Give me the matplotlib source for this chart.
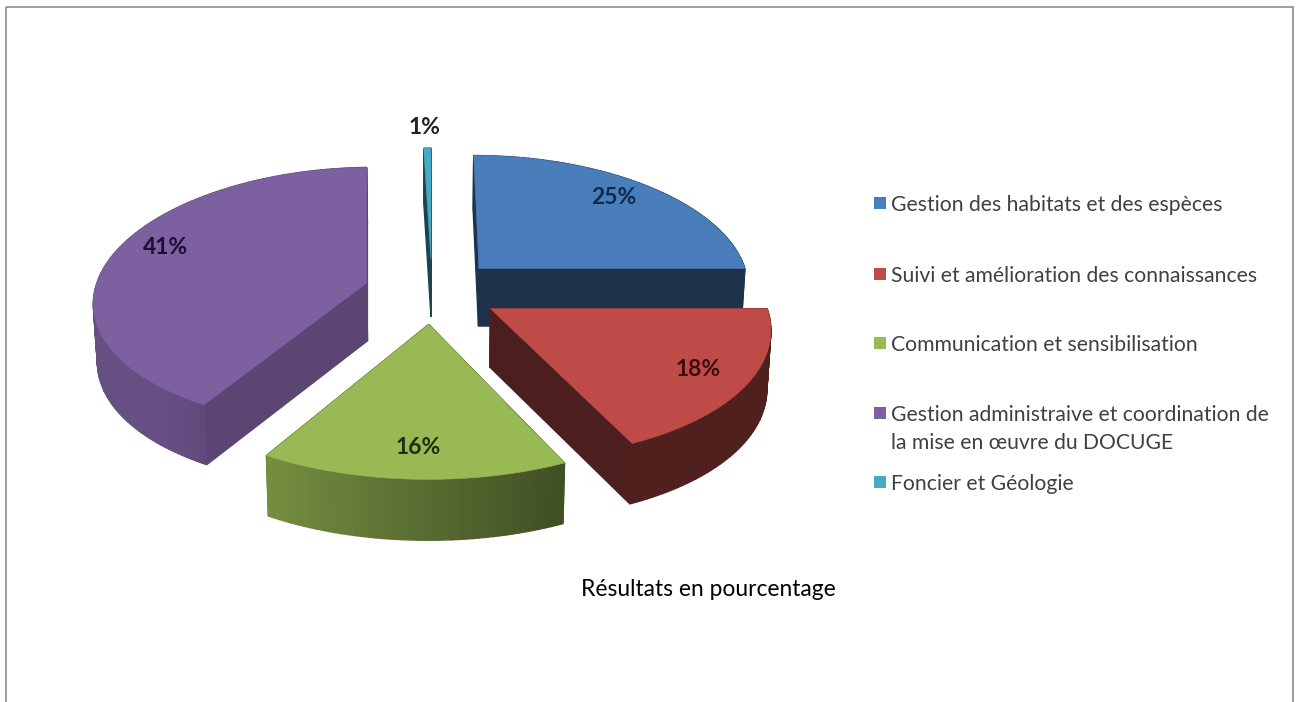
import numpy as np
import matplotlib
matplotlib.use('Agg')
import matplotlib.pyplot as plt
from matplotlib.patches import Polygon, Rectangle

plt.rcParams['font.family'] = ['Lato', 'DejaVu Sans']

# values (labels are rounded, the slices are not quite)
categories = ['Gestion des habitats et des espèces',
              'Suivi et amélioration des connaissances',
              'Communication et sensibilisation',
              'Gestion administraive et coordination de\nla mise en œuvre du DOCUGE',
              'Foncier et Géologie']
values = [25, 18, 15.5, 41, 0.5]
percent_labels = ['25%', '18%', '16%', '41%', '1%']

# colours of the slices
top_colors = ['#4A7EBB', '#BE4B48', '#98B954', '#7D60A0', '#46AAC5']
label_colors = ['#0E2A50', '#3D0D0B', '#1E3010', '#1C0F33', '#222222']
cut_shade = [0.40, 0.40, 0.50, 0.72, 0.40]

# where the percent labels and the legend rows sit, in pixels
label_xy = [(614, 197), (698, 369), (418, 447), (165, 247), (425, 128)]
legend_y = [203, 274, 343, 413, 482]

# projection of the exploded pie
cx, cy = 432, 291
a, b = 272, 130
explode = 0.25
px_x, px_y = 0.13, 0.11
depth = 58


def project(X, Y, z=0.0):
    x = cx + a * X / (1 - px_x * Y)
    y = cy + b * Y / (1 - px_y * Y)
    if z:
        x = x - 0.012 * (x - cx)
        y = y + z * (1 + 0.04 * Y)
    return x, y


def shade(color, f):
    rgb = np.array(matplotlib.colors.to_rgb(color))
    return tuple(rgb * f)


fig = plt.figure(figsize=(13, 7.02), dpi=100)
ax = fig.add_axes([0, 0, 1, 1])
ax.set_xlim(0, 1300)
ax.set_ylim(702, 0)
ax.axis('off')

# frame round the chart
ax.add_patch(Rectangle((6, 7), 1287, 700, fill=False, edgecolor='#8C8C8C', lw=1.2))

fracs = np.array(values) / sum(values)
starts = np.concatenate(([0], np.cumsum(fracs)[:-1])) * 2 * np.pi
ends = np.cumsum(fracs) * 2 * np.pi

slice_faces = []
tops = []
for i in range(len(values)):
    mid = (starts[i] + ends[i]) / 2
    ox, oy = explode * np.sin(mid), -explode * np.cos(mid)
    th = np.linspace(starts[i], ends[i], max(int(values[i] * 3), 6))
    X = ox + np.sin(th)
    Y = oy - np.cos(th)
    faces = []

    # outer wall, one narrow strip at a time so it can carry the gradient
    for j in range(len(th) - 1):
        p0 = project(X[j], Y[j])
        p1 = project(X[j + 1], Y[j + 1])
        p2 = project(X[j + 1], Y[j + 1], depth)
        p3 = project(X[j], Y[j], depth)
        nx = np.sin((th[j] + th[j + 1]) / 2)
        f = np.clip(0.58 - 0.37 * nx, 0.42, 0.82)
        faces.append(((Y[j] + Y[j + 1]) / 2, [p0, p1, p2, p3], shade(top_colors[i], f)))

    # the two straight cut faces
    for k in (0, -1):
        p0 = project(ox, oy)
        p1 = project(X[k], Y[k])
        p2 = project(X[k], Y[k], depth)
        p3 = project(ox, oy, depth)
        faces.append(((oy + Y[k]) / 2, [p0, p1, p2, p3], shade(top_colors[i], cut_shade[i])))

    faces.sort(key=lambda t: t[0])
    slice_faces.append(faces)
    xs, ys = project(X, Y)
    tops.append([project(ox, oy)] + list(zip(xs, ys)))

# back to front, top of a slice over its own walls
draw_order = [3, 4, 0, 2, 1]
z = 2
for i in draw_order:
    for _, pts, col in slice_faces[i]:
        ax.add_patch(Polygon(pts, closed=True, facecolor=col, edgecolor=col, lw=1.0, zorder=z))
        z += 1
    ax.add_patch(Polygon(tops[i], closed=True, facecolor=top_colors[i],
                         edgecolor=top_colors[i], lw=0.4, zorder=z))
    z += 1

# percent labels
for i, lab in enumerate(percent_labels):
    ax.text(label_xy[i][0], label_xy[i][1], lab, ha='center', va='center',
            fontsize=16.5, fontweight='bold', color=label_colors[i], zorder=z)

# legend
for i, name in enumerate(categories):
    ax.add_patch(Rectangle((874, legend_y[i] - 6), 12, 12, facecolor=top_colors[i],
                           edgecolor='none', zorder=z))
    ax.text(891, legend_y[i] - 8, name, ha='left', va='top', fontsize=15.2,
            color='#404040', linespacing=1.5, zorder=z)

ax.text(708, 589, 'Résultats en pourcentage', ha='center', va='center',
        fontsize=16.4, color='black', zorder=z)

fig.savefig('out.png', dpi=100, facecolor='white')
